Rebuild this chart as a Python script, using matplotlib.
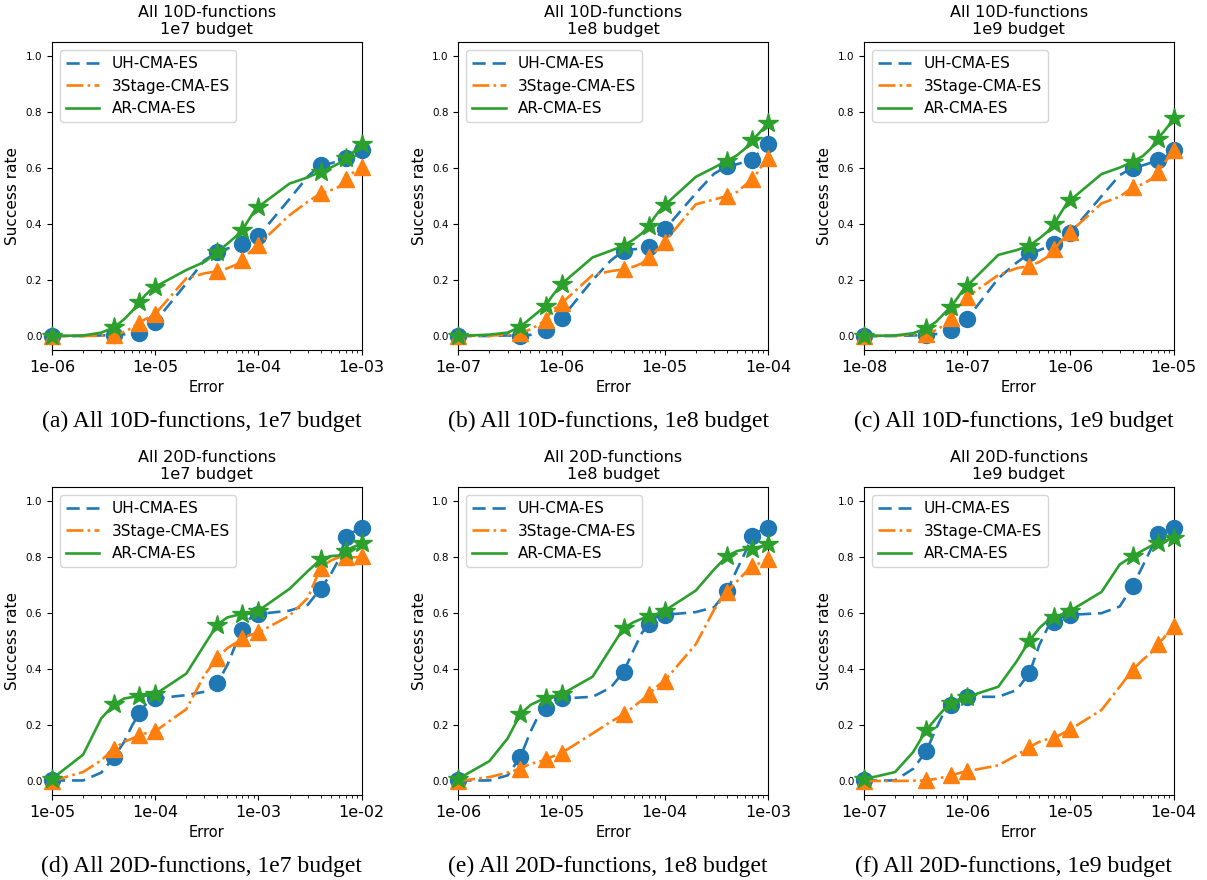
import matplotlib.pyplot as plt
import numpy as np
from matplotlib.lines import Line2D
from matplotlib.ticker import FuncFormatter

# error grid, as multiples of the left end of each panel
steps = [1, 2, 3, 4, 5, 6, 7, 8, 9,
         10, 20, 30, 40, 50, 60, 70, 80, 90,
         100, 200, 300, 400, 500, 600, 700, 800, 900, 1000]

x_start = [1e-6, 1e-7, 1e-8, 1e-5, 1e-6, 1e-7]
dims = ['10D', '10D', '10D', '20D', '20D', '20D']
budgets = ['1e7', '1e8', '1e9', '1e7', '1e8', '1e9']
letters = ['a', 'b', 'c', 'd', 'e', 'f']

# success rates
uh_10d_1e7 = [0.0, 0.0, 0.002, 0.004, 0.006, 0.01, 0.012, 0.026, 0.04, 0.051,
              0.188, 0.271, 0.30, 0.313, 0.32, 0.329, 0.343, 0.352, 0.357,
              0.49, 0.57, 0.611, 0.617, 0.626, 0.638, 0.646, 0.655, 0.664]
s3_10d_1e7 = [0.0, 0.0, 0.001, 0.003, 0.015, 0.03, 0.048, 0.06, 0.069, 0.079,
              0.206, 0.224, 0.232, 0.242, 0.254, 0.271, 0.295, 0.313, 0.327,
              0.432, 0.48, 0.51, 0.521, 0.533, 0.563, 0.58, 0.595, 0.605]
ar_10d_1e7 = [0.0, 0.002, 0.012, 0.031, 0.06, 0.09, 0.12, 0.146, 0.164, 0.176,
              0.236, 0.265, 0.30, 0.33, 0.355, 0.38, 0.414, 0.444, 0.462,
              0.545, 0.567, 0.587, 0.602, 0.617, 0.635, 0.652, 0.67, 0.688]

uh_10d_1e8 = [0.0, 0.0, 0.002, 0.0, 0.004, 0.012, 0.021, 0.04, 0.051, 0.063,
              0.20, 0.27, 0.305, 0.31, 0.313, 0.317, 0.343, 0.367, 0.381,
              0.51, 0.58, 0.607, 0.614, 0.623, 0.631, 0.652, 0.67, 0.686]
s3_10d_1e8 = [0.0, 0.001, 0.005, 0.01, 0.024, 0.04, 0.057, 0.09, 0.105, 0.117,
              0.218, 0.232, 0.238, 0.248, 0.26, 0.281, 0.301, 0.317, 0.337,
              0.471, 0.488, 0.50, 0.515, 0.539, 0.56, 0.587, 0.617, 0.635]
ar_10d_1e8 = [0.0, 0.005, 0.012, 0.033, 0.063, 0.087, 0.108, 0.14, 0.164, 0.186,
              0.281, 0.305, 0.323, 0.345, 0.367, 0.393, 0.426, 0.45, 0.468,
              0.569, 0.602, 0.626, 0.646, 0.67, 0.70, 0.721, 0.742, 0.76]

uh_10d_1e9 = [0.0, 0.0, 0.002, 0.004, 0.007, 0.014, 0.021, 0.04, 0.051, 0.062,
              0.206, 0.262, 0.295, 0.307, 0.319, 0.329, 0.345, 0.36, 0.369,
              0.50, 0.575, 0.602, 0.61, 0.619, 0.629, 0.638, 0.65, 0.664]
s3_10d_1e9 = [0.0, 0.001, 0.006, 0.007, 0.021, 0.039, 0.063, 0.099, 0.123, 0.14,
              0.218, 0.242, 0.251, 0.265, 0.283, 0.31, 0.337, 0.355, 0.373,
              0.474, 0.498, 0.531, 0.543, 0.56, 0.587, 0.617, 0.64, 0.664]
ar_10d_1e9 = [0.0, 0.002, 0.01, 0.027, 0.051, 0.081, 0.105, 0.135, 0.162, 0.18,
              0.29, 0.307, 0.323, 0.349, 0.373, 0.402, 0.438, 0.468, 0.486,
              0.579, 0.602, 0.623, 0.643, 0.67, 0.706, 0.73, 0.754, 0.781]

uh_20d_1e7 = [0.002, 0.002, 0.03, 0.086, 0.14, 0.20, 0.242, 0.272, 0.29, 0.295,
              0.307, 0.319, 0.349, 0.415, 0.487, 0.541, 0.577, 0.591, 0.597,
              0.609, 0.63, 0.688, 0.738, 0.792, 0.872, 0.888, 0.896, 0.903]
s3_20d_1e7 = [0.0, 0.032, 0.074, 0.116, 0.14, 0.152, 0.164, 0.17, 0.176, 0.178,
              0.257, 0.379, 0.441, 0.475, 0.493, 0.511, 0.52, 0.526, 0.531,
              0.591, 0.654, 0.762, 0.788, 0.80, 0.80, 0.80, 0.80, 0.803]
ar_20d_1e7 = [0.008, 0.094, 0.224, 0.274, 0.295, 0.30, 0.305, 0.305, 0.307, 0.31,
              0.384, 0.487, 0.559, 0.585, 0.592, 0.597, 0.598, 0.599, 0.609,
              0.687, 0.75, 0.792, 0.804, 0.806, 0.824, 0.834, 0.842, 0.852]

uh_20d_1e8 = [0.002, 0.002, 0.02, 0.086, 0.176, 0.236, 0.262, 0.283, 0.293, 0.295,
              0.301, 0.334, 0.391, 0.469, 0.529, 0.561, 0.583, 0.591, 0.594,
              0.604, 0.621, 0.678, 0.756, 0.816, 0.876, 0.891, 0.898, 0.903]
s3_20d_1e8 = [0.0, 0.014, 0.03, 0.044, 0.062, 0.068, 0.077, 0.086, 0.094, 0.10,
              0.17, 0.212, 0.238, 0.266, 0.289, 0.31, 0.331, 0.347, 0.359,
              0.489, 0.612, 0.676, 0.714, 0.744, 0.768, 0.776, 0.786, 0.795]
ar_20d_1e8 = [0.008, 0.071, 0.152, 0.239, 0.272, 0.286, 0.295, 0.299, 0.304, 0.31,
              0.373, 0.475, 0.547, 0.568, 0.58, 0.591, 0.594, 0.60, 0.609,
              0.681, 0.756, 0.804, 0.822, 0.828, 0.831, 0.836, 0.84, 0.846]

uh_20d_1e9 = [0.002, 0.002, 0.044, 0.106, 0.188, 0.248, 0.272, 0.286, 0.295, 0.301,
              0.301, 0.325, 0.385, 0.487, 0.547, 0.568, 0.585, 0.592, 0.594,
              0.60, 0.624, 0.696, 0.768, 0.828, 0.882, 0.894, 0.90, 0.906]
s3_20d_1e9 = [0.0, 0.0, 0.001, 0.002, 0.008, 0.014, 0.02, 0.026, 0.032, 0.035,
              0.056, 0.092, 0.122, 0.14, 0.15, 0.154, 0.166, 0.176, 0.185,
              0.254, 0.337, 0.397, 0.433, 0.457, 0.489, 0.511, 0.535, 0.553]
ar_20d_1e9 = [0.006, 0.032, 0.104, 0.182, 0.224, 0.257, 0.278, 0.289, 0.298, 0.301,
              0.337, 0.427, 0.501, 0.547, 0.573, 0.587, 0.594, 0.60, 0.609,
              0.676, 0.774, 0.804, 0.824, 0.84, 0.852, 0.858, 0.864, 0.87]

uh_all = [uh_10d_1e7, uh_10d_1e8, uh_10d_1e9, uh_20d_1e7, uh_20d_1e8, uh_20d_1e9]
s3_all = [s3_10d_1e7, s3_10d_1e8, s3_10d_1e9, s3_20d_1e7, s3_20d_1e8, s3_20d_1e9]
ar_all = [ar_10d_1e7, ar_10d_1e8, ar_10d_1e9, ar_20d_1e7, ar_20d_1e8, ar_20d_1e9]

methods = ['UH-CMA-ES', '3Stage-CMA-ES', 'AR-CMA-ES']
colors = ['#1f77b4', '#ff7f0e', '#2ca02c']
styles = [(0, (5, 2.6)), '-.', '-']
markers = ['o', '^', '*']
msizes = [11.5, 12, 15]


def panel(ax, i):
    x = x_start[i] * np.array(steps)
    for series, color, ls, mk, ms in zip([uh_all[i], s3_all[i], ar_all[i]], colors, styles, markers, msizes):
        ax.plot(x, series, color=color, linestyle=ls, linewidth=1.9,
                marker=mk, markersize=ms, markevery=3, clip_on=False, zorder=3)

    ax.set_xscale('log')
    ax.set_xlim(x[0], x[-1])
    ax.set_ylim(-0.05, 1.05)
    ax.set_yticks(np.arange(0, 1.01, 0.2))
    ax.xaxis.set_major_formatter(FuncFormatter(lambda v, _: f'{v:.0e}'))
    ax.tick_params(axis='x', which='major', labelsize=11.5)
    ax.tick_params(axis='y', labelsize=7.5)
    ax.set_xlabel('Error', fontsize=10.5)
    ax.set_ylabel('Success rate', fontsize=11)
    ax.set_title(f'All {dims[i]}-functions\n{budgets[i]} budget', fontsize=11.6, linespacing=1.2)

    handles = [Line2D([0], [0], color=c, linestyle=s, linewidth=1.9) for c, s in zip(colors, styles)]
    ax.legend(handles, methods, loc='upper left', fontsize=11, handlelength=2.2)


if __name__ == '__main__':
    W, H = 1207, 880
    fig = plt.figure(figsize=(W / 100, H / 100), dpi=100)

    lefts = [52, 458.3, 864]
    tops = [42.3, 487.3]
    aw, ah = 309.7, 307.7
    captions_y = [421.7, 866.7]

    for i in range(6):
        r, c = divmod(i, 3)
        ax = fig.add_axes([lefts[c] / W, 1 - (tops[r] + ah) / H, aw / W, ah / H])
        panel(ax, i)
        fig.text((lefts[c] + aw / 2 - 5) / W, 1 - captions_y[r] / H,
                 f'({letters[i]}) All {dims[i]}-functions, {budgets[i]} budget',
                 family='Liberation Serif', fontsize=17, ha='center', va='center')

    fig.savefig('out.png', dpi=100)
